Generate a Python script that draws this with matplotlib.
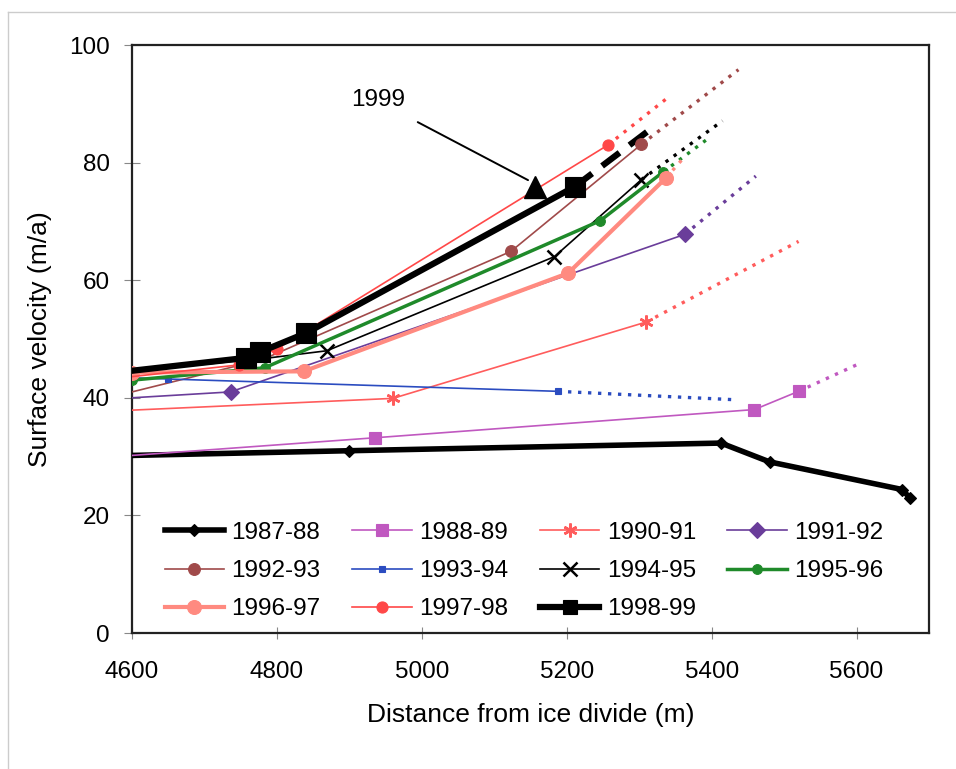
import matplotlib
matplotlib.use("Agg")
import matplotlib.pyplot as plt
from matplotlib.lines import Line2D

plt.rcParams['font.family'] = ['Liberation Sans', 'DejaVu Sans']

# distance from ice divide (m) / surface velocity (m/a)
seasons = ["1987-88", "1988-89", "1990-91", "1991-92", "1992-93", "1993-94",
           "1994-95", "1995-96", "1996-97", "1997-98", "1998-99"]

dist_8788 = [4600, 4900, 5413, 5480, 5663, 5674]
vel_8788 = [30.2, 31.0, 32.3, 29.1, 24.4, 22.9]

dist_8889 = [4600, 4935, 5459, 5520]
vel_8889 = [30.2, 33.2, 38.0, 41.1]

dist_9091 = [4600, 4960, 5310]
vel_9091 = [37.9, 39.9, 52.9]

dist_9192 = [4600, 4736, 5363]
vel_9192 = [40.0, 41.0, 67.8]

dist_9293 = [4600, 4780, 5123, 5303]
vel_9293 = [41.0, 46.5, 64.9, 83.1]

dist_9394 = [4600, 4649, 5188]
vel_9394 = [43.4, 43.2, 41.1]

dist_9495 = [4600, 4790, 4869, 5183, 5303]
vel_9495 = [44.5, 46.8, 48.0, 64.0, 77.1]

dist_9596 = [4600, 4783, 5246, 5333]
vel_9596 = [43.0, 45.1, 70.1, 78.4]

dist_9697 = [4600, 4837, 5202, 5337]
vel_9697 = [44.3, 44.5, 61.2, 77.4]

dist_9798 = [4600, 4748, 4800, 5257]
vel_9798 = [43.6, 45.6, 48.3, 83.0]

dist_9899 = [4600, 4758, 4777, 4840, 5211]
vel_9899 = [44.6, 46.8, 47.8, 51.0, 75.9]

# dotted extrapolations (end point of each)
ext_end_dist = [None, 5600, 5520, 5461, 5437, 5427, 5415, 5392, 5362, 5339, 5318]
ext_end_vel = [None, 45.6, 66.6, 77.7, 95.8, 39.7, 87.1, 83.8, 80.9, 91.0, 85.9]

# 1999 point
dist_1999 = [5156]
vel_1999 = [75.8]

all_dist = [dist_8788, dist_8889, dist_9091, dist_9192, dist_9293, dist_9394,
            dist_9495, dist_9596, dist_9697, dist_9798, dist_9899]
all_vel = [vel_8788, vel_8889, vel_9091, vel_9192, vel_9293, vel_9394,
           vel_9495, vel_9596, vel_9697, vel_9798, vel_9899]

colors = ["black", "#c058c0", "#ff5c5c", "#6a3d9a", "#a04a4a", "#2b4cc0",
          "black", "#1f8a2a", "#ff8a80", "#ff4848", "black"]
markers = ["D", "s", (6, 2, 0), "D", "o", "s", "x", "o", "o", "o", "s"]
msizes = [6, 8, 10, 8, 8.5, 5, 10, 7, 10, 8, 14]
lwidths = [4, 1.2, 1.2, 1.2, 1.2, 1.2, 1.2, 2.5, 3, 1.2, 4.5]
mark_idx = [[1, 2, 3, 4, 5], [1, 2, 3], [1, 2], [1, 2], [2, 3], [1, 2],
            [2, 3, 4], [0, 1, 2, 3], [0, 1, 2, 3], [1, 2, 3], [1, 2, 3, 4]]

fig = plt.figure(figsize=(9.56, 7.69), dpi=100)
ax = fig.add_axes([132 / 956, 1 - 633 / 769, (929 - 132) / 956, (633 - 45) / 769])

for i, name in enumerate(seasons):
    x = all_dist[i]
    y = all_vel[i]
    if ext_end_dist[i] is not None:
        if name == "1998-99":
            ls = (0, (3.5, 2))
            lw = 4.5
        else:
            ls = (0, (1, 2))
            lw = 2.4
        ax.plot([x[-1], ext_end_dist[i]], [y[-1], ext_end_vel[i]],
                color=colors[i], linestyle=ls, linewidth=lw, zorder=2)
    ax.plot(x, y, color=colors[i], linewidth=lwidths[i], marker=markers[i],
            markersize=msizes[i], markevery=mark_idx[i],
            markeredgewidth=1.8 if markers[i] in ("x", (6, 2, 0)) else 0.8,
            markeredgecolor=colors[i], markerfacecolor=colors[i],
            zorder=3 + i * 0.1, clip_on=True)

ax.plot(dist_1999, vel_1999, linestyle="none", marker="^", markersize=16,
        color="black", zorder=5)
ax.annotate("", xy=(5150, 76.8), xytext=(4991, 87.1),
            arrowprops=dict(arrowstyle="-", color="black", lw=1.4))
ax.text(4940, 90.6, "1999", fontsize=17.5, ha="center", va="center")

ax.set_xlim(4600, 5700)
ax.set_ylim(0, 100)
ax.set_xticks([4600, 4800, 5000, 5200, 5400, 5600])
ax.set_yticks([0, 20, 40, 60, 80, 100])
ax.tick_params(axis="x", direction="inout", length=9, width=0.8,
               color="#888888", labelsize=17.5, pad=16)
ax.tick_params(axis="y", direction="inout", length=12, width=0.8,
               color="#888888", labelsize=17.5, pad=10)
for s in ax.spines.values():
    s.set_linewidth(1.6)
    s.set_color("#222222")

ax.set_xlabel("Distance from ice divide (m)", fontsize=19, labelpad=14)
ax.set_ylabel("Surface velocity (m/a)", fontsize=19, labelpad=12)

handles = []
for i, name in enumerate(seasons):
    handles.append(Line2D([], [], color=colors[i], linewidth=lwidths[i],
                          marker=markers[i], markersize=min(msizes[i], 10),
                          markeredgewidth=1.8 if markers[i] in ("x", (6, 2, 0)) else 0.8,
                          markerfacecolor=colors[i], markeredgecolor=colors[i]))
# legend fills column by column; reorder so it reads across rows
order = [0, 4, 8, 1, 5, 9, 2, 6, 10, 3, 7]
ax.legend([handles[k] for k in order], [seasons[k] for k in order], ncol=4,
          loc="lower left", bbox_to_anchor=(0.041, 0.022), frameon=False,
          fontsize=17.5, borderpad=0, borderaxespad=0, handlelength=2.45,
          handletextpad=0.3, columnspacing=1.3, labelspacing=0.66)

# faint frame of the scanned page
fig.add_artist(Line2D([8 / 956, 8 / 956], [0, 1 - 12 / 769], color="#cccccc", lw=1))
fig.add_artist(Line2D([8 / 956, 1], [1 - 12 / 769, 1 - 12 / 769], color="#cccccc", lw=1))

plt.savefig("out.png", dpi=100)
